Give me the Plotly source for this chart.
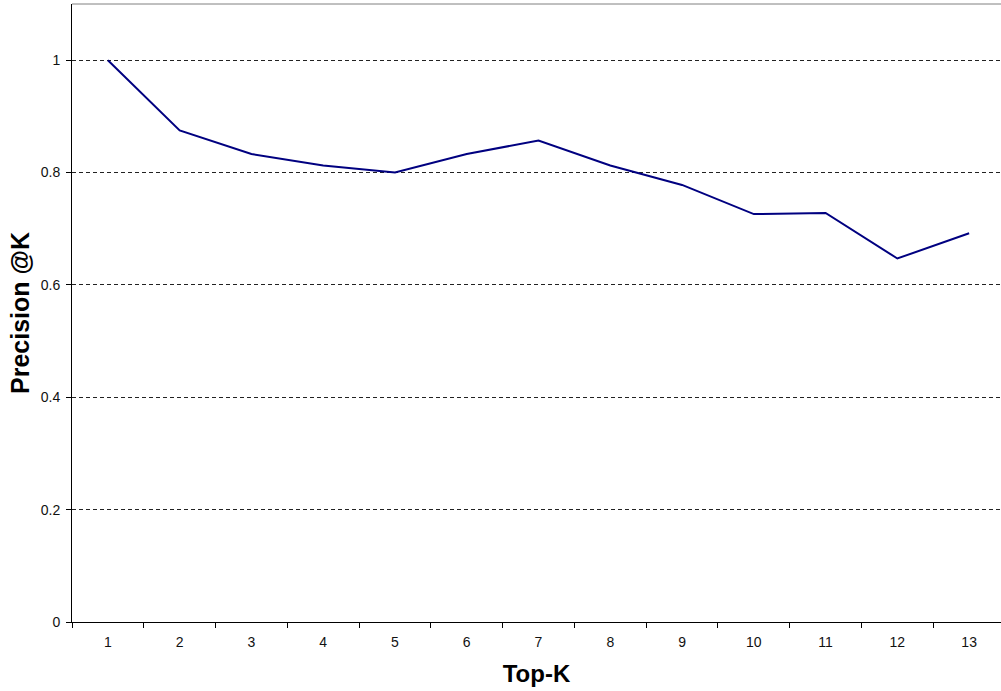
import plotly.graph_objects as go

top_k = ["1", "2", "3", "4", "5", "6", "7", "8", "9", "10", "11", "12", "13"]
precision = [1.0, 0.875, 0.833, 0.8125, 0.8, 0.833, 0.857, 0.8125, 0.778, 0.726, 0.728, 0.647, 0.692]
y_ticks = [0, 0.2, 0.4, 0.6, 0.8, 1.0]
y_tick_text = ["0", "0.2", "0.4", "0.6", "0.8", "1"]

font_family = "Liberation Sans, Arial, sans-serif"

fig = go.Figure()
fig.add_trace(go.Scatter(
    x=top_k, y=precision, mode="lines",
    line=dict(color="#000080", width=2),
    showlegend=False,
))

fig.update_layout(
    width=1001, height=691,
    margin=dict(l=72, r=0, t=4, b=69),
    paper_bgcolor="white", plot_bgcolor="white",
    font=dict(family=font_family, size=14, color="black"),
    xaxis=dict(
        type="category",
        range=[-0.5, 12.444],
        tickson="boundaries",
        ticks="outside", ticklen=5, tickcolor="black", tickwidth=1,
        ticklabelstandoff=7,
        showline=True, linecolor="black", linewidth=1,
        showgrid=False, zeroline=False,
        tickfont=dict(size=14, color="#111111"),
        title=dict(text="<b>Top-K</b>", font=dict(size=24), standoff=16),
    ),
    yaxis=dict(
        range=[0, 1.1],
        tickvals=y_ticks, ticktext=y_tick_text,
        ticks="outside", ticklen=5, tickcolor="black", tickwidth=1,
        ticklabelstandoff=3,
        showline=True, linecolor="black", linewidth=1,
        showgrid=True, gridcolor="#222222", griddash="4px,3px", gridwidth=1,
        zeroline=False,
        tickfont=dict(size=14, color="#111111"),
        title=dict(text="<b>Precision @K</b>", font=dict(size=25), standoff=3),
    ),
)

# thin grey frame along the top of the plot area
fig.add_shape(type="line", xref="paper", yref="paper",
              x0=0, x1=1, y0=1, y1=1,
              line=dict(color="#808080", width=1))

fig.write_html("out.html")
